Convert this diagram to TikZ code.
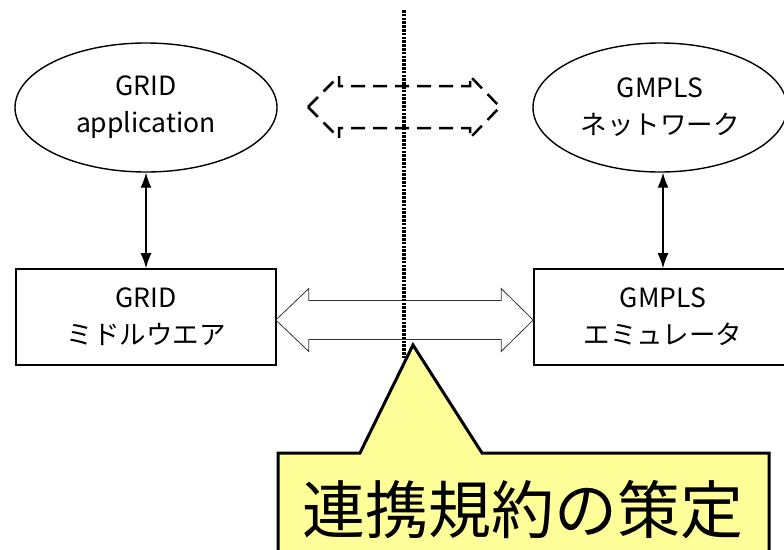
\documentclass[tikz,border=0pt]{standalone}
\usepackage{fontspec}
\setmainfont{Noto Sans CJK JP}
\usetikzlibrary{shapes.geometric,arrows.meta,calc}
\definecolor{callfill}{HTML}{FFFF99}
\begin{document}
\begin{tikzpicture}[x=1pt,y=-1pt,
  lbl/.style={font=\fontsize{26.5}{37}\selectfont, align=center},
  oval/.style={ellipse, draw, line width=1.4pt, inner sep=0pt, minimum width=262pt, minimum height=129pt, lbl},
  boxn/.style={rectangle, draw, line width=1.6pt, inner sep=0pt, minimum width=260pt, minimum height=96pt, lbl},
  link/.style={line width=1.4pt, {Latex[length=15pt,width=11pt]}-{Latex[length=15pt,width=11pt]}},
  blockarrow/.style={draw=black!80, line width=0.8pt},
  dasharrow/.style={draw, line width=2.5pt, dash pattern=on 14pt off 8pt},
  divider/.style={line width=3.4pt, dash pattern=on 2.6pt off 1.2pt},
  callout/.style={draw, line width=3pt, fill=callfill, line join=miter},
  bigtext/.style={font=\fontsize{63}{63}\selectfont, inner sep=0pt}
]
\useasboundingbox (0,0) rectangle (784,549);
\clip (0,0) rectangle (784,549);

% nodes
\node[oval] (app) at (146,107.5) {GRID\\application};
\node[oval, minimum width=254pt] (net) at (660,107.5) {GMPLS\\ネットワーク};
\node[boxn] (mid) at (146,317) {GRID\\ミドルウエア};
\node[boxn, minimum width=258pt] (emu) at (663,317) {GMPLS\\エミュレータ};

% vertical links
\draw[link] (app.south) -- (mid.north);
\draw[link] (emu.north |- net.south) -- (emu.north);

% wide block double arrow between middleware and emulator
\coordinate (L) at ($(mid.east)+(-1,3)$);
\coordinate (R) at ($(emu.west)+(0,3)$);
\draw[blockarrow] (L) -- ++(33,-31.5) -- ++(0,12) -- ($(R)+(-32,-19.5)$)
  -- ++(0,-12) -- (R) -- ++(-32,31.5) -- ++(0,-12) -- ($(L)+(33,19.5)$)
  -- ++(0,12) -- cycle;

% dashed block double arrow between application and network
\coordinate (DL) at (308,107);
\coordinate (DR) at (500,107);
\draw[dasharrow] (DL) -- ++(31,-31) -- ++(0,10) -- ($(DR)+(-30,-21)$)
  -- ++(0,-10) -- (DR) -- ++(-30,31) -- ++(0,-10) -- ($(DL)+(31,21)$)
  -- ++(0,10) -- cycle;

% dotted divider
\coordinate (dtop) at (404,10);
\coordinate (dbot) at (404,358);
\draw[divider] (dtop) -- (dbot);

% callout
\coordinate (tip) at (413,345);
\draw[callout] (278,453) -- (360,453) -- (tip) -- (482,453) -- (769,453)
  -- (769,565) -- (278,565) -- cycle;
\node[bigtext] (rule) at (523,510) {連携規約の策定};
\end{tikzpicture}
\end{document}
